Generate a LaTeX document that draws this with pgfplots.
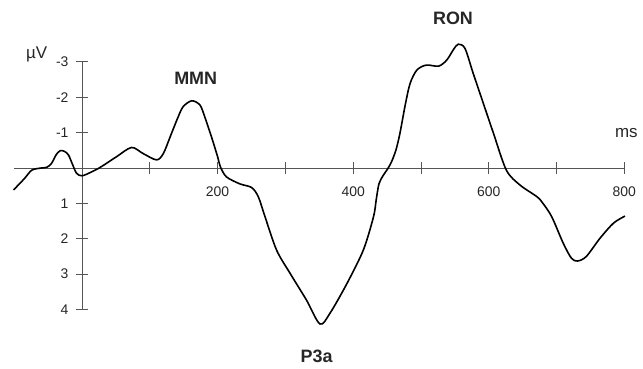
\documentclass[border=0pt]{standalone}
\usepackage{pgfplots}
\pgfplotsset{compat=1.18}
\usepackage{fontspec}
\setmainfont{Liberation Sans}
\definecolor{txt}{HTML}{262626}
\definecolor{ax}{HTML}{555555}
\begin{document}
\begin{tikzpicture}
\begin{axis}[
  scale only axis, width=610.1bp, height=247.6bp,
  xmin=-100, xmax=800, ymin=-3, ymax=4,
  y dir=reverse,
  axis lines=middle,
  axis line style={-, ax, line width=0.8bp},
  clip=false,
  xtick={100,200,...,800},
  xticklabels={,200,,400,,600,,800},
  ytick={-3,-2,-1,1,2,3,4},
  yticklabels={-3,-2,-1,1,2,3,4},
  tick style={ax, line width=0.8bp},
  major tick length=12bp,
  tick align=center,
  xticklabel style={font=\fontsize{14}{14}\selectfont, text=txt, yshift=-9bp},
  yticklabel style={font=\fontsize{14}{14}\selectfont, text=txt, xshift=-4bp},
  /pgf/number format/assume math mode=true,
]
\addplot[black, line width=1.6bp, smooth, tension=0.5] coordinates {
(-101,0.62) (-85,0.30) (-74,0.06) (-60,0.0) (-52,-0.02) (-45,-0.13) (-38,-0.38)
(-32,-0.49) (-26,-0.47) (-20,-0.37) (-14,-0.1) (-8,0.15) (0,0.22) (13,0.12)
(27,-0.02) (51,-0.32) (73,-0.58) (90,-0.41) (110,-0.23) (120,-0.41) (130,-0.88)
(140,-1.36) (149,-1.73) (162,-1.90) (174,-1.78) (181,-1.45) (191,-0.88) (200,-0.32)
(204,-0.04) (213,0.25) (233,0.45) (250,0.55) (260,0.81) (270,1.38) (287,2.32) (307,2.98)
(331,3.73) (351,4.41) (366,4.10) (391,3.26) (415,2.32) (430,1.38) (434,0.9) (438,0.45)
(444,0.22) (450,0.05) (456,-0.15) (463,-0.5) (469,-0.98) (477,-1.8) (484,-2.39) (494,-2.77)
(508,-2.91) (526,-2.88) (538,-3.05) (548,-3.35) (555,-3.50) (565,-3.38) (577,-2.68)
(592,-1.83) (607,-0.98) (626,0.06) (646,0.48) (671,0.81) (680,1.0) (693,1.38)
(710,2.13) (722,2.55) (731,2.63) (744,2.5) (764,1.99) (784,1.56) (801,1.36)
};
\node[font=\bfseries\fontsize{18}{18}\selectfont, text=txt] at (axis cs:167.7,-2.54) {MMN};
\node[font=\bfseries\fontsize{18}{18}\selectfont, text=txt] at (axis cs:547.3,-4.24) {RON};
\node[font=\bfseries\fontsize{18}{18}\selectfont, text=txt] at (axis cs:346.2,5.33) {P3a};
\node[font=\fontsize{17}{17}\selectfont, text=txt] at (axis cs:803,-0.99) {ms};
\node[font=\fontsize{17}{17}\selectfont, text=txt] at (axis cs:-66.8,-3.22) {µV};
\coordinate (bl) at (axis cs:-121.0,5.68);
\coordinate (tr) at (axis cs:827.6,-4.75);
\end{axis}
\pgfresetboundingbox
\path[use as bounding box] (bl) rectangle (tr);
\end{tikzpicture}
\end{document}
